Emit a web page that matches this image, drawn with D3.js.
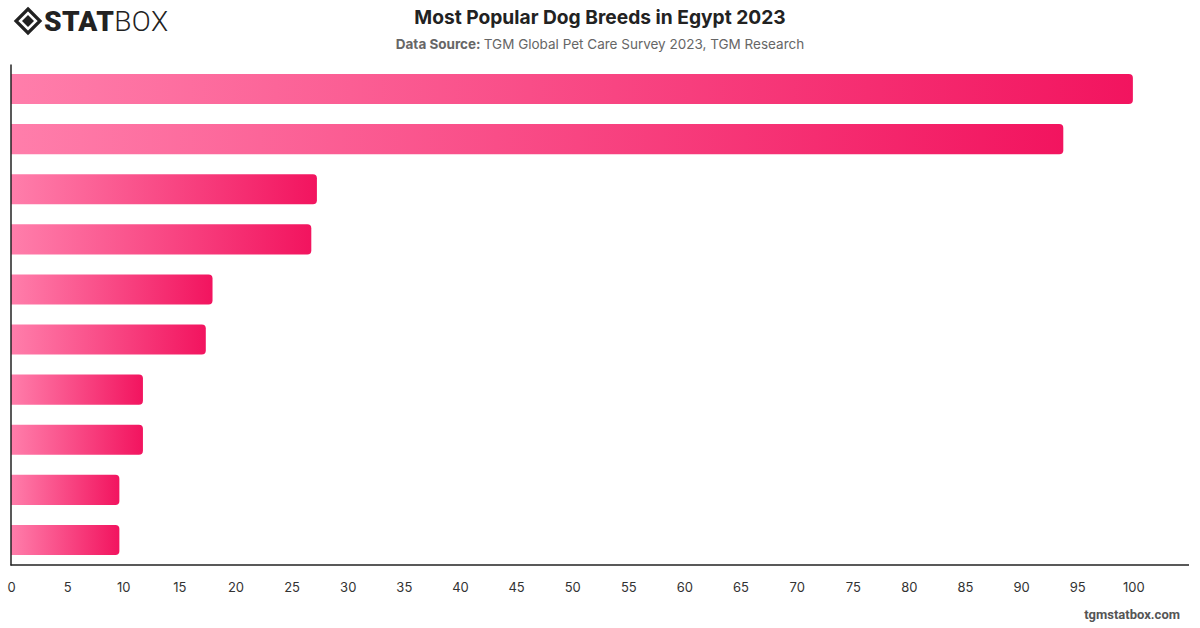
<!DOCTYPE html>
<html>
<head>
<meta charset="utf-8">
<script src="https://cdn.jsdelivr.net/npm/d3@7"></script>
<style>
  body { margin: 0; background: #fff; }
  svg { display: block; font-family: Inter, "Noto Sans", sans-serif; }
</style>
</head>
<body>
<div id="chart"></div>
<script>
// breed names are not printed on the reference chart
var categories = ["Breed 1", "Breed 2", "Breed 3", "Breed 4", "Breed 5",
                  "Breed 6", "Breed 7", "Breed 8", "Breed 9", "Breed 10"];
var values = [100, 93.8, 27.3, 26.8, 18.0, 17.4, 11.8, 11.8, 9.7, 9.7];
var xTicks = d3.range(0, 101, 5);

const WIDTH = 1200;
const HEIGHT = 628;
const LEFT = 10.5;
const RIGHT = 1189;
const TOP = 64;
const BOTTOM = 565;

var translate = function (x, y) {
    return "translate(" + x + "," + y + ")";
};

// rectangle with rounded right corners only
var barPath = function (x0, y0, w, h, r) {
    r = Math.min(r, w, h / 2);
    return "M" + x0 + "," + y0 +
        "H" + (x0 + w - r) +
        "Q" + (x0 + w) + "," + y0 + " " + (x0 + w) + "," + (y0 + r) +
        "V" + (y0 + h - r) +
        "Q" + (x0 + w) + "," + (y0 + h) + " " + (x0 + w - r) + "," + (y0 + h) +
        "H" + x0 + "Z";
};

var svg = d3.select("#chart").append("svg")
    .attr("width", WIDTH)
    .attr("height", HEIGHT);

var defs = svg.append("defs");
var grad = defs.append("linearGradient")
    .attr("id", "barGrad")
    .attr("x1", "0%").attr("x2", "100%")
    .attr("y1", "0%").attr("y2", "0%");
grad.append("stop").attr("offset", "0%").attr("stop-color", "#ff7eab");
grad.append("stop").attr("offset", "100%").attr("stop-color", "#f2145f");

var xScale = d3.scaleLinear()
    .domain([0, 105])
    .range([LEFT, RIGHT]);

var yScale = d3.scaleBand()
    .domain(categories)
    .range([TOP, BOTTOM])
    .paddingInner(0.4)
    .paddingOuter(0.2);

// bars
svg.append("g").selectAll("path")
    .data(values)
    .enter()
    .append("path")
    .attr("d", function (d, i) {
        var x0 = xScale(0) + 0.5;
        return barPath(x0, yScale(categories[i]), xScale(d) - x0, yScale.bandwidth(), 4);
    })
    .attr("fill", "url(#barGrad)");

// x axis
var xAxis = d3.axisBottom(xScale)
    .tickValues(xTicks)
    .tickSize(0)
    .tickPadding(18);

var gx = svg.append("g")
    .attr("transform", translate(0, BOTTOM))
    .call(xAxis);
gx.select(".domain").remove();
gx.selectAll("text")
    .attr("font-size", 13)
    .attr("fill", "#333")
    .attr("font-family", "Inter, sans-serif")
    .attr("dx", 0.5);

svg.append("line")
    .attr("x1", LEFT).attr("x2", RIGHT)
    .attr("y1", BOTTOM).attr("y2", BOTTOM)
    .attr("stroke", "#222").attr("stroke-width", 1.5);

// y axis line, no labels
var yAxis = d3.axisLeft(yScale).tickSize(0).tickFormat("");
var gy = svg.append("g")
    .attr("transform", translate(LEFT, 0))
    .call(yAxis);
gy.select(".domain")
    .attr("stroke", "#222")
    .attr("stroke-width", 1.5);

// title
svg.append("text")
    .attr("x", 600).attr("y", 24)
    .attr("text-anchor", "middle")
    .attr("font-size", 19.2)
    .attr("font-weight", 700)
    .attr("fill", "#222")
    .text("Most Popular Dog Breeds in Egypt 2023");

var sub = svg.append("text")
    .attr("x", 600).attr("y", 49)
    .attr("text-anchor", "middle")
    .attr("font-size", 13.5)
    .attr("fill", "#666");
sub.append("tspan").attr("font-weight", 700).text("Data Source: ");
sub.append("tspan").text("TGM Global Pet Care Survey 2023, TGM Research");

// logo
var logo = svg.append("g").attr("transform", translate(28, 21));
logo.append("path")
    .attr("d", "M0,-12 L12,0 L0,12 L-12,0 Z")
    .attr("fill", "none")
    .attr("stroke", "#222")
    .attr("stroke-width", 3.2);
logo.append("path")
    .attr("d", "M0,-6 L6,0 L0,6 L-6,0 Z")
    .attr("fill", "#222");

var logoText = svg.append("text")
    .attr("x", 44).attr("y", 31)
    .attr("font-size", 28)
    .attr("letter-spacing", 0.4)
    .attr("fill", "#222")
    .attr("font-family", "Roboto, sans-serif");
logoText.append("tspan").attr("font-weight", 900).text("STAT");
logoText.append("tspan").attr("font-weight", 300).text("BOX");

// footer
svg.append("text")
    .attr("x", 1180).attr("y", 619)
    .attr("text-anchor", "end")
    .attr("font-size", 13)
    .attr("font-weight", 700)
    .attr("fill", "#555")
    .attr("font-family", "Roboto, sans-serif")
    .text("tgmstatbox.com");
</script>
</body>
</html>
